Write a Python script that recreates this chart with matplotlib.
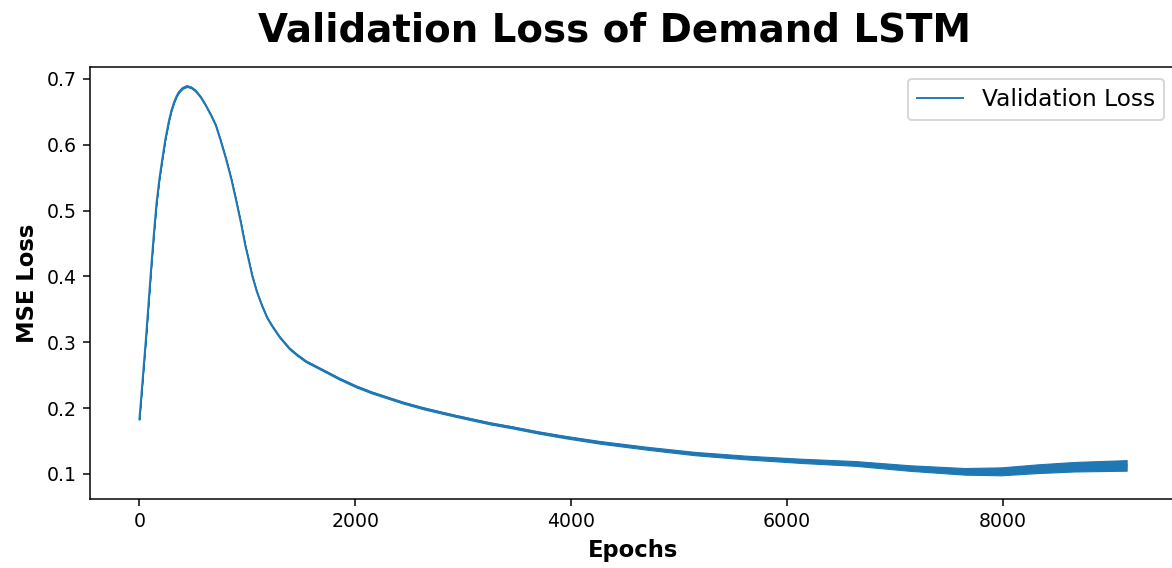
import numpy as np
import matplotlib
matplotlib.use("Agg")
import matplotlib.pyplot as plt

# validation loss per epoch (trend of the curve) and half-width of the jitter around it
epochs = [0, 60, 112, 135, 159, 185, 211, 240, 273, 295, 320, 345, 366, 400,
          440, 480, 521, 570, 614, 660, 707, 750, 800, 850, 893, 940, 980,
          1010, 1047, 1090, 1140, 1185, 1233, 1300, 1388, 1460, 1544, 1698,
          1850, 2008, 2150, 2318, 2450, 2627, 2780, 2938, 3247, 3450, 3700,
          3950, 4270, 4709, 5148, 5622, 6128, 6635, 7141, 7649, 7987, 8325,
          8663, 9150]
val_loss = [0.183, 0.305, 0.420, 0.467, 0.512, 0.548, 0.577, 0.608, 0.636,
            0.651, 0.664, 0.674, 0.680, 0.686, 0.689, 0.687, 0.682, 0.672,
            0.660, 0.646, 0.630, 0.608, 0.580, 0.549, 0.518, 0.482, 0.448,
            0.427, 0.400, 0.376, 0.354, 0.337, 0.324, 0.308, 0.291, 0.281,
            0.271, 0.258, 0.245, 0.233, 0.224, 0.215, 0.208, 0.200, 0.194,
            0.188, 0.177, 0.171, 0.163, 0.156, 0.148, 0.139, 0.131, 0.125,
            0.120, 0.116, 0.109, 0.104, 0.104, 0.108, 0.111, 0.113]
jitter = [0.0, 0.0, 0.0, 0.0002, 0.0004, 0.0006, 0.0008, 0.001, 0.0011,
          0.0012, 0.0012, 0.0012, 0.0012, 0.0012, 0.0012, 0.0012, 0.0012,
          0.0012, 0.0012, 0.0012, 0.0012, 0.0012, 0.0012, 0.0012, 0.0012,
          0.0012, 0.0012, 0.0012, 0.0013, 0.0013, 0.0013, 0.0013, 0.0013,
          0.0013, 0.0013, 0.0013, 0.0013, 0.0013, 0.0014, 0.0014, 0.0014,
          0.0014, 0.0014, 0.0015, 0.0015, 0.0015, 0.0016, 0.0016, 0.0017,
          0.0018, 0.002, 0.0022, 0.0025, 0.0028, 0.0032, 0.0036, 0.0042,
          0.005, 0.006, 0.0066, 0.0072, 0.008]

dpi = 136
fig = plt.figure(figsize=(1172 / dpi, 568 / dpi), dpi=dpi)
ax = fig.add_axes([90 / 1172, 69 / 568, 1086 / 1172, 432 / 568])

x = np.array(epochs)
y = np.array(val_loss)
s = np.array(jitter)

ax.plot(x, y, color="#1f77b4", linewidth=1.0, label="Validation Loss")
ax.fill_between(x, y - s, y + s, color="#1f77b4", linewidth=0.6,
                edgecolor="#1f77b4")

ax.set_ylim(0.062, 0.718)
ax.set_xlabel("Epochs", fontsize=12, fontweight="bold")
ax.set_ylabel("MSE Loss", fontsize=12, fontweight="bold")
ax.legend(loc="upper right", fontsize=12.3)

fig.text(614.5 / 1172, 1 - 42 / 568, "Validation Loss of Demand LSTM",
         ha="center", va="baseline", fontsize=20.5, fontweight="bold")

fig.savefig("out.png", dpi=dpi)
